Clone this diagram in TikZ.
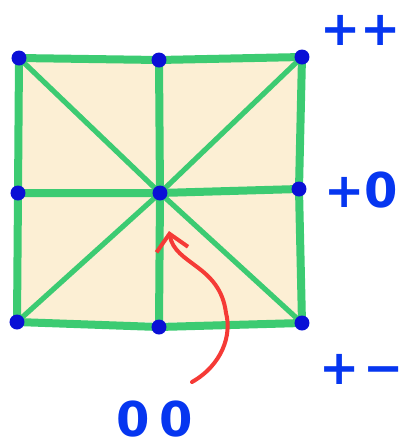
\documentclass[tikz,border=0pt]{standalone}
\usepackage{fontspec}
\setmainfont{DejaVu Sans}
\usetikzlibrary{arrows.meta}
\definecolor{paper}{HTML}{FCEFD4}
\definecolor{edgegreen}{HTML}{3CCB72}
\definecolor{dotblue}{HTML}{0A0FD6}
\definecolor{inkblue}{HTML}{0636F0}
\definecolor{inkred}{HTML}{F53A36}
\tikzset{
  grid/.style   ={draw=edgegreen, line width=4pt, line cap=round, line join=round},
  diag/.style   ={draw=edgegreen, line width=2.6pt, line cap=round},
  vtx/.style    ={circle, fill=dotblue, inner sep=0pt, minimum size=7.5pt},
  sign/.style   ={text=inkblue, font=\fontsize{24}{24}\selectfont\bfseries, inner sep=0pt},
  pointer/.style={draw=inkred, line width=2pt, line cap=round,
                  -{Straight Barb[length=8pt, width=16pt, line width=2pt]}},
}
\begin{document}
\begin{tikzpicture}[x=0.5pt, y=-0.5pt]
\useasboundingbox (0,0) rectangle (401,446);

% ---- the square ----
\fill[paper] (19,58) -- (302,57) -- (302,323) -- (17,322) -- cycle;

\coordinate (tl) at (19,58);   \coordinate (tm) at (159,60);  \coordinate (tr) at (302,57);
\coordinate (ml) at (18,193);  \coordinate (c)  at (160,193); \coordinate (mr) at (299,189);
\coordinate (bl) at (17,322);  \coordinate (bm) at (159,327); \coordinate (br) at (302,323);

\draw[grid] (tl) -- (tm) -- (tr) -- (mr) -- (br) -- (bm) -- (bl) -- (ml) -- cycle;
\draw[grid] (tm) -- (c) -- (bm);
\draw[grid] (ml) -- (c) -- (mr);
\draw[diag] (tl) -- (c) -- (br);
\draw[diag] (tr) -- (c) -- (bl);

\foreach \v in {tl,tm,tr,ml,c,mr,bl,bm,br}
  \node[vtx] (\v-dot) at (\v) {};

% ---- labels ----
\node[sign, anchor=west] (pp) at (320,30) {++};
\node[sign, anchor=west] (pz) at (324,190) {+0};
\node[sign, anchor=west] (pm) at (319,369) {+\hspace{2pt}−};
\node[sign, anchor=west] (zz) at (116,419) {0\hspace{5pt}0};

% ---- pointer to the centre ----
\coordinate (tail) at (192,382);
\coordinate (mid)  at (226,313);
\coordinate (tip)  at (169,231);
\draw[pointer] (tail) .. controls (222,365) and (232,335) .. (mid)
               .. controls (220,265) and (175,265) .. (tip);

\end{tikzpicture}
\end{document}
